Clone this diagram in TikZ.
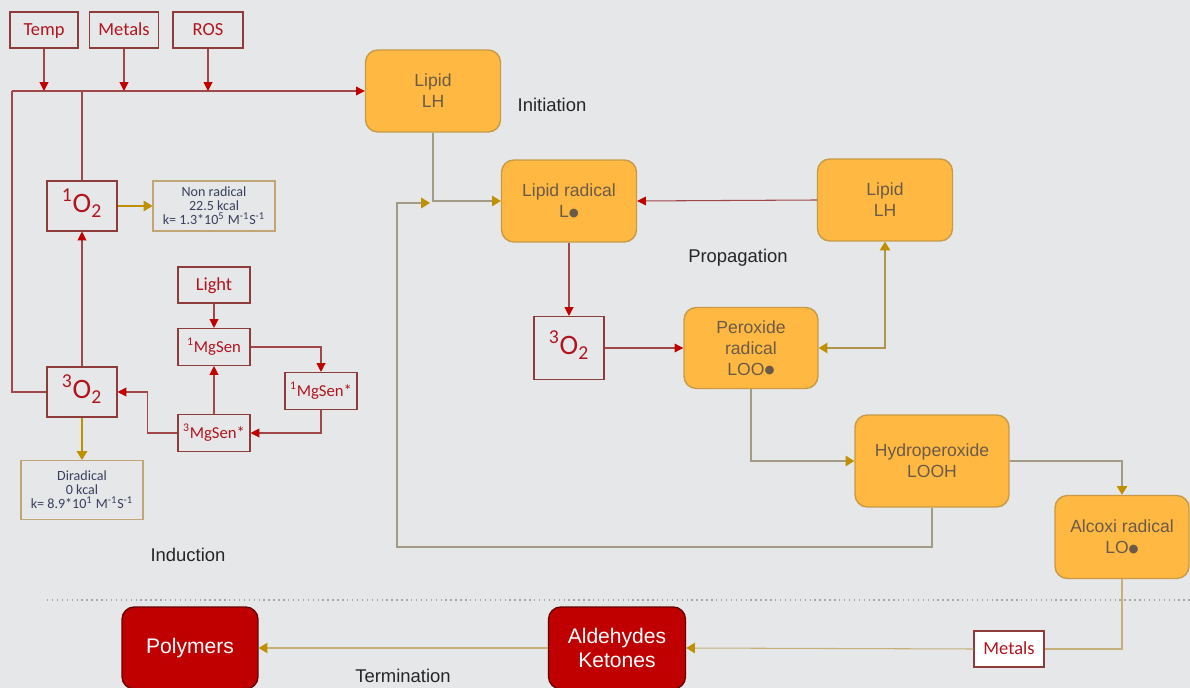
\documentclass[tikz,border=0pt]{standalone}
\usepackage{fontspec}
\setmainfont{Liberation Sans}
\newfontfamily\calibfont{Carlito}
\newfontfamily\dotfont{DejaVu Sans}
\usetikzlibrary{arrows.meta}
\definecolor{bgrey}{HTML}{E6E7E9}
\definecolor{boxred}{HTML}{8E3B3B}
\definecolor{txtred}{HTML}{B0141E}
\definecolor{arrred}{HTML}{C00000}
\definecolor{linered}{HTML}{A0474A}
\definecolor{gold}{HTML}{BF9000}
\definecolor{tanline}{HTML}{A39C84}
\definecolor{sandline}{HTML}{C4B078}
\definecolor{oliveline}{HTML}{AE9650}
\definecolor{lipidfill}{HTML}{FFB942}
\definecolor{lipiddraw}{HTML}{C89A45}
\definecolor{lipidtext}{HTML}{6B5A48}
\definecolor{navy}{HTML}{3A3F5C}
\definecolor{tanbox}{HTML}{C2A574}
\definecolor{prodred}{HTML}{C00000}
\newcommand{\rad}{\raisebox{0.15ex}{\dotfont\fontsize{6.5}{7}\selectfont ●}}
\tikzset{
	factor/.style={draw=boxred,line width=0.6pt,text=txtred,font=\calibfont\fontsize{10.5}{12}\selectfont,inner sep=1pt,text height=1.6ex,text depth=0.4ex},
	oxy/.style={factor,font=\calibfont\fontsize{16}{18}\selectfont,text height=2ex,text depth=0.6ex},
	sens/.style={factor,font=\calibfont\fontsize{9.5}{11}\selectfont},
	info/.style={draw=tanbox,line width=0.6pt,text=navy,font=\calibfont\fontsize{8}{8}\selectfont,align=center,inner sep=1pt},
	lipid/.style={rounded corners=7pt,fill=lipidfill,draw=lipiddraw,line width=0.8pt,text=lipidtext,font=\fontsize{10}{12}\selectfont,align=center},
	product/.style={rounded corners=7pt,fill=prodred,draw=red!40!black,line width=0.8pt,text=white,font=\fontsize{12}{14}\selectfont,align=center},
	stage/.style={font=\fontsize{10.5}{12}\selectfont,text=black!85},
	redarr/.style={draw=linered,line width=0.6pt,-{Triangle[length=5pt,width=5pt,color=arrred]}},
	redline/.style={draw=linered,line width=0.6pt},
	goldarr/.style={draw=gold,line width=0.6pt,-{Triangle[length=5pt,width=6pt]}},
	tanarr/.style={draw=tanline,line width=0.6pt,-{Triangle[length=5pt,width=6pt,color=gold]}},
	sandarr/.style={draw=sandline,line width=0.6pt,-{Triangle[length=5pt,width=6pt,color=gold]}}
}
\begin{document}
\begin{tikzpicture}[x=0.02cm,y=-0.02cm]
	\fill[bgrey] (0,0) rectangle (1190,688);
	\useasboundingbox (0,0) rectangle (1190,688);
	\draw[gray!70,dotted,line width=0.8pt] (47,600) -- (1190,600);
	\node[factor,minimum width=1.36cm,minimum height=0.72cm] (temp) at (44,30) {Temp};
	\node[factor,minimum width=1.38cm,minimum height=0.72cm] (metals) at (124,30) {Metals};
	\node[factor,minimum width=1.40cm,minimum height=0.72cm] (ros) at (208,30) {ROS};
	\node[oxy,minimum width=1.40cm,minimum height=1.00cm] (singlet) at (82,206) {\textsuperscript{1}O\textsubscript{2}};
	\node[info,minimum width=2.44cm,minimum height=1.00cm] (nonrad) at (214,206) {Non radical\\22.5 kcal\\k= 1.3*10\textsuperscript{5} M\textsuperscript{-1}S\textsuperscript{-1}};
	\node[oxy,minimum width=1.40cm,minimum height=1.00cm] (triplet) at (82,392) {\textsuperscript{3}O\textsubscript{2}};
	\node[info,minimum width=2.44cm,minimum height=1.18cm] (dirad) at (82,490) {Diradical\\0 kcal\\k= 8.9*10\textsuperscript{1} M\textsuperscript{-1}S\textsuperscript{-1}};
	\node[factor,minimum width=1.44cm,minimum height=0.72cm] (light) at (214,285) {Light};
	\node[sens,minimum width=1.44cm,minimum height=0.74cm] (sensone) at (214,347) {\textsuperscript{1}MgSen};
	\node[sens,minimum width=1.44cm,minimum height=0.74cm] (sensexc) at (321,391) {\textsuperscript{1}MgSen*};
	\node[sens,minimum width=1.44cm,minimum height=0.74cm] (senstrip) at (214,433) {\textsuperscript{3}MgSen*};
	\node[lipid,minimum width=2.70cm,minimum height=1.64cm] (lipidA) at (433,91) {Lipid\\LH};
	\node[lipid,minimum width=2.70cm,minimum height=1.64cm] (lipidrad) at (569,201) {Lipid radical\\L\rad};
	\node[lipid,minimum width=2.70cm,minimum height=1.64cm] (lipidB) at (885,200) {Lipid\\LH};
	\node[oxy,minimum width=1.40cm,minimum height=1.26cm] (tripletB) at (569,348) {\textsuperscript{3}O\textsubscript{2}};
	\node[lipid,minimum width=2.68cm,minimum height=1.62cm] (peroxrad) at (751,348) {Peroxide\\radical\\LOO\rad};
	\node[lipid,minimum width=3.08cm,minimum height=1.84cm] (hydroperox) at (932,461) {Hydroperoxide\\LOOH};
	\node[lipid,minimum width=2.68cm,minimum height=1.66cm] (alcoxirad) at (1122,537) {Alcoxi radical\\LO\rad};
	\node[factor,fill=white,minimum width=1.40cm,minimum height=0.72cm] (metalsB) at (1009,649) {Metals};
	\node[product,minimum width=2.74cm,minimum height=1.64cm] (aldehydes) at (617,648) {Aldehydes\\Ketones};
	\node[product,minimum width=2.72cm,minimum height=1.64cm] (polymers) at (190,648) {Polymers};
	\node[stage] (initiation) at (552,105) {Initiation};
	\node[stage] (propagation) at (738,258) {Propagation};
	\node[stage] (induction) at (188,555) {Induction};
	\node[stage] (termination) at (403,676) {Termination};
	\coordinate (busL) at (12,91);
	\coordinate (fbcorner) at (397,547);
	\coordinate (fbend) at (430,203);
	\draw[redarr] (temp.south) -- (temp.south |- busL);
	\draw[redarr] (metals.south) -- (metals.south |- busL);
	\draw[redarr] (ros.south) -- (ros.south |- busL);
	\draw[redarr] (busL) -- (lipidA.west);
	\draw[redline] (busL) |- (triplet.west);
	\draw[redline] (singlet.north) -- (singlet.north |- busL);
	\draw[redarr] (triplet.north) -- (singlet.south);
	\draw[goldarr] (singlet.east) -- (nonrad.west);
	\draw[goldarr] (triplet.south) -- (dirad.north);
	\draw[redarr] (light) -- (sensone);
	\draw[redarr] (sensone.east) -| (sensexc.north);
	\draw[redarr] (sensexc.south) |- (senstrip.east);
	\draw[redarr] (senstrip.north) -- (sensone.south);
	\draw[redarr] (senstrip.west) -- ++(-30,0) |- (triplet.east);
	\draw[tanarr] (lipidA.south) |- (lipidrad.west);
	\draw[tanarr] (hydroperox.south) |- (fbcorner) |- (fbend);
	\draw[redarr] (lipidB.west) -- (lipidrad.east);
	\draw[redarr] (lipidrad.south) -- (tripletB.north);
	\draw[redarr] (tripletB.east) -- (peroxrad.west);
	\draw[draw=oliveline,line width=0.6pt,{Triangle[length=5pt,width=6pt,color=gold]}-{Triangle[length=5pt,width=6pt,color=gold]}] (lipidB.south) |- (peroxrad.east);
	\draw[tanarr] (peroxrad.south) |- (hydroperox.west);
	\draw[tanarr] (hydroperox.east) -| (alcoxirad.north);
	\draw[draw=sandline,line width=0.6pt] (alcoxirad.south) |- (metalsB.east);
	\draw[sandarr] (metalsB.west) -- (aldehydes.east);
	\draw[sandarr] (aldehydes.west) -- (polymers.east);
\end{tikzpicture}
\end{document}
